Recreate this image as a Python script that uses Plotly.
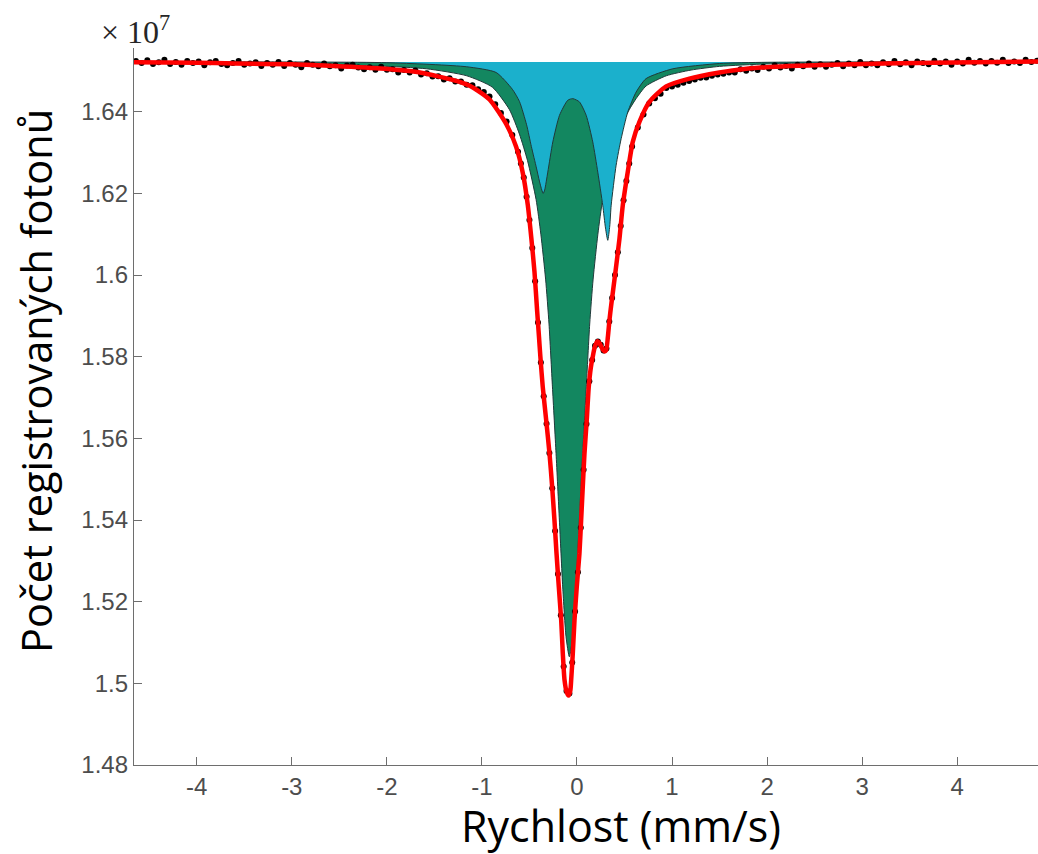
import plotly.graph_objects as go

# velocity channels (mm/s) and measured counts (x 10^7)
v_data = [-4.64, -4.58, -4.52, -4.46, -4.40, -4.34, -4.28, -4.22, -4.16, -4.10, -4.04, -3.98, -3.92, -3.86,
          -3.80, -3.74, -3.68, -3.62, -3.56, -3.50, -3.44, -3.38, -3.32, -3.26, -3.20, -3.14, -3.08, -3.02,
          -2.96, -2.90, -2.84, -2.78, -2.72, -2.66, -2.60, -2.54, -2.48, -2.42, -2.36, -2.30, -2.24, -2.18,
          -2.12, -2.06, -2.00, -1.94, -1.88, -1.82, -1.76, -1.70, -1.64, -1.58, -1.52, -1.46, -1.40, -1.34,
          -1.28, -1.22, -1.16, -1.10, -1.04, -0.98, -0.92, -0.86, -0.80, -0.74, -0.68, -0.62,
          -0.59, -0.56, -0.53, -0.50, -0.47, -0.44, -0.41, -0.38, -0.35, -0.32, -0.29, -0.26, -0.23, -0.20,
          -0.17, -0.14, -0.11, -0.08, -0.05, -0.02, 0.01, 0.04, 0.07, 0.10, 0.13, 0.16, 0.19, 0.22, 0.25,
          0.28, 0.31, 0.34, 0.37, 0.40, 0.43, 0.46, 0.49, 0.52, 0.55, 0.58,
          0.64, 0.70, 0.76, 0.82, 0.88, 0.94, 1.00, 1.06, 1.12, 1.18, 1.24, 1.30, 1.36, 1.42, 1.48, 1.54,
          1.60, 1.66, 1.72, 1.78, 1.84, 1.90, 1.96, 2.02, 2.08, 2.14, 2.20, 2.26, 2.32, 2.38, 2.44, 2.50,
          2.56, 2.62, 2.68, 2.74, 2.80, 2.86, 2.92, 2.98, 3.04, 3.10, 3.16, 3.22, 3.28, 3.34, 3.40, 3.46,
          3.52, 3.58, 3.64, 3.70, 3.76, 3.82, 3.88, 3.94, 4.00, 4.06, 4.12, 4.18, 4.24, 4.30, 4.36, 4.42,
          4.48, 4.54, 4.60, 4.66, 4.72, 4.78, 4.84]
counts = [1.6524, 1.6519, 1.6526, 1.6517, 1.6521, 1.6527, 1.6517, 1.6522, 1.6515, 1.6524, 1.6519, 1.6523,
          1.6514, 1.6521, 1.6524, 1.6517, 1.6514, 1.6519, 1.6524, 1.6515, 1.6518, 1.6521, 1.6512, 1.6519,
          1.6515, 1.6522, 1.6512, 1.6519, 1.6515, 1.6509, 1.6519, 1.6515, 1.6511, 1.6518, 1.6511, 1.6514,
          1.6506, 1.6513, 1.6515, 1.6508, 1.6504, 1.6509, 1.6503, 1.6510, 1.6503, 1.6504, 1.6496, 1.6502,
          1.6496, 1.6501, 1.6491, 1.6494, 1.6486, 1.6487, 1.6479, 1.6482, 1.6474, 1.6474, 1.6466, 1.6465,
          1.6455, 1.6448, 1.6437, 1.6418, 1.6397, 1.6376, 1.6343, 1.6302,
          1.6273, 1.6239, 1.6192, 1.6135, 1.6066, 1.5985, 1.5884, 1.5786, 1.5703, 1.5636, 1.5564, 1.5478,
          1.5373, 1.5268, 1.5167, 1.5041, 1.4981, 1.4975, 1.5051, 1.5176, 1.5272, 1.5381, 1.5523, 1.5635,
          1.5740, 1.5792, 1.5827, 1.5837, 1.5829, 1.5815, 1.5820, 1.5886, 1.5944, 1.6000, 1.6056, 1.6120,
          1.6183, 1.6230, 1.6273, 1.6315,
          1.6361, 1.6393, 1.6420, 1.6433, 1.6444, 1.6458, 1.6462, 1.6466, 1.6471, 1.6475, 1.6479, 1.6483,
          1.6484, 1.6488, 1.6491, 1.6493, 1.6496, 1.6496, 1.6504, 1.6500, 1.6506, 1.6502, 1.6510, 1.6506,
          1.6514, 1.6508, 1.6512, 1.6506, 1.6515, 1.6511, 1.6518, 1.6510, 1.6516, 1.6510, 1.6515, 1.6519,
          1.6511, 1.6518, 1.6514, 1.6522, 1.6514, 1.6518, 1.6514, 1.6521, 1.6516, 1.6524, 1.6516, 1.6521,
          1.6514, 1.6523, 1.6519, 1.6516, 1.6525, 1.6518, 1.6523, 1.6515, 1.6523, 1.6518, 1.6527, 1.6520,
          1.6524, 1.6518, 1.6524, 1.6520, 1.6527, 1.6519, 1.6523, 1.6519, 1.6527, 1.6522, 1.6525]

# total fit (red)
v_fit = [-4.66, -4.0, -3.6, -3.0, -2.55, -2.02, -1.68, -1.45, -1.25, -1.1, -0.92, -0.745, -0.64, -0.57,
         -0.517, -0.48, -0.447, -0.42, -0.40, -0.385, -0.36, -0.324, -0.289, -0.261, -0.237, -0.215,
         -0.191, -0.166, -0.149, -0.131, -0.11, -0.089, -0.07, -0.061, -0.044, -0.026, -0.002, 0.026,
         0.044, 0.061, 0.079, 0.103, 0.124, 0.145, 0.166, 0.19, 0.216, 0.24, 0.265, 0.29, 0.307, 0.325,
         0.342, 0.36, 0.405, 0.447, 0.482, 0.534, 0.587, 0.657, 0.762, 0.938, 1.183, 1.498, 1.635, 1.99,
         2.69, 3.74, 4.85]
fit = [1.6521, 1.6520, 1.6518, 1.6516, 1.6512, 1.6505, 1.6497, 1.6486, 1.6474, 1.6460, 1.6430, 1.6370,
       1.6314, 1.6250, 1.6171, 1.6090, 1.6008, 1.5915, 1.5850, 1.5800, 1.5726, 1.5645, 1.5563, 1.5481,
       1.5400, 1.5318, 1.5236, 1.5155, 1.5073, 1.5008, 1.4980, 1.4970, 1.4982, 1.5008, 1.5073, 1.5155,
       1.5237, 1.5318, 1.5400, 1.5481, 1.5563, 1.5645, 1.5726, 1.5772, 1.5800, 1.5826, 1.5838, 1.5832,
       1.5820, 1.5813, 1.5816, 1.5848, 1.5890, 1.5926, 1.6008, 1.6089, 1.6171, 1.6252, 1.6326, 1.6375,
       1.6424, 1.6462, 1.6481, 1.6496, 1.6501, 1.6509, 1.6515, 1.6520, 1.6523]

# singlet component (green)
v_singlet = [-4.66, -3.08, -2.08, -1.58, -1.16, -0.89, -0.71, -0.605, -0.52, -0.43, -0.38, -0.33, -0.294,
             -0.258, -0.22, -0.185, -0.15, -0.115, -0.08, -0.045, -0.01, 0.025, 0.06, 0.098, 0.134, 0.17,
             0.22, 0.27, 0.36, 0.445, 0.55, 0.622, 0.727, 0.94, 1.2, 1.5, 2.0, 3.0, 4.85]
singlet = [1.6522, 1.6517, 1.6512, 1.6505, 1.6488, 1.6460, 1.6405, 1.6345, 1.6280, 1.6185, 1.6100, 1.5990,
           1.5880, 1.5726, 1.5563, 1.5400, 1.5236, 1.5114, 1.5065, 1.5114, 1.5236, 1.5400, 1.5563, 1.5726,
           1.5880, 1.5990, 1.6100, 1.6185, 1.6285, 1.6355, 1.6405, 1.6432, 1.6463, 1.6488, 1.6502, 1.6511,
           1.6517, 1.6521, 1.6522]

# doublet component (blue)
v_doublet = [-4.66, -2.0, -1.16, -0.85, -0.68, -0.605, -0.53, -0.48, -0.426, -0.395, -0.37, -0.355, -0.34,
             -0.307, -0.254, -0.184, -0.097, -0.044, 0.026, 0.097, 0.166, 0.219, 0.271, 0.300, 0.324, 0.345,
             0.36, 0.412, 0.465, 0.534, 0.622, 0.727, 1.007, 1.498, 2.0, 4.85]
doublet = [1.6522, 1.6520, 1.6510, 1.6496, 1.6455, 1.6425, 1.6368, 1.6315, 1.6262, 1.6230, 1.6208, 1.6200,
           1.6208, 1.6252, 1.6326, 1.6391, 1.6428, 1.6432, 1.6424, 1.6391, 1.6326, 1.6252, 1.6171, 1.6115,
           1.6085, 1.6120, 1.6171, 1.6269, 1.6334, 1.6399, 1.6448, 1.6481, 1.6505, 1.6518, 1.6521, 1.6522]

x_ticks = [-4, -3, -2, -1, 0, 1, 2, 3, 4]
x_tick_text = ['-4', '-3', '-2', '-1', '0', '1', '2', '3', '4']
y_ticks = [1.48, 1.50, 1.52, 1.54, 1.56, 1.58, 1.60, 1.62, 1.64]
y_tick_text = ['1.48', '1.5', '1.52', '1.54', '1.56', '1.58', '1.6', '1.62', '1.64']

outline = '#1f3a3a'
axis_grey = '#6e6e6e'

fig = go.Figure()
fig.add_trace(go.Scatter(x=v_singlet, y=singlet, mode='lines', fill='toself', fillcolor='#138760',
                         line=dict(color=outline, width=1, shape='spline', smoothing=0.6)))
fig.add_trace(go.Scatter(x=v_doublet, y=doublet, mode='lines', fill='toself', fillcolor='#1bb0cc',
                         line=dict(color=outline, width=1, shape='spline', smoothing=0.6)))
fig.add_trace(go.Scatter(x=v_data, y=counts, mode='markers',
                         marker=dict(color='black', size=6)))
fig.add_trace(go.Scatter(x=v_fit, y=fit, mode='lines',
                         line=dict(color='#ff0000', width=4.5, shape='spline', smoothing=0.6)))

fig.update_layout(
    width=1038, height=854,
    margin=dict(l=134, r=0, t=48, b=89, autoexpand=False),
    paper_bgcolor='white', plot_bgcolor='white',
    showlegend=False,
    font=dict(family='Liberation Sans', color='#4d4d4d', size=24),
)
fig.update_xaxes(range=[-4.66, 4.85], tickvals=x_ticks, ticktext=x_tick_text,
                 showgrid=False, zeroline=False, showline=True, linecolor=axis_grey, linewidth=1.3,
                 ticks='inside', ticklen=8, tickcolor=axis_grey, ticklabelstandoff=0)
fig.update_yaxes(range=[1.48, 1.6556], tickvals=y_ticks, ticktext=y_tick_text,
                 showgrid=False, zeroline=False, showline=True, linecolor=axis_grey, linewidth=1.3,
                 ticks='inside', ticklen=8, tickcolor=axis_grey, ticklabelstandoff=0)

fig.add_annotation(text='× 10<sup>7</sup>', xref='paper', yref='paper', x=0.002, y=1.025,
                   xanchor='center', yanchor='middle', showarrow=False,
                   font=dict(family='Liberation Serif', size=32, color='#262626'))
fig.add_annotation(text='Rychlost (mm/s)', xref='paper', yref='paper', x=0.5387, y=-0.0850,
                   xanchor='center', yanchor='middle', showarrow=False,
                   font=dict(family='Open Sans', size=43, color='black'))
fig.add_annotation(text='Počet registrovaných fotonů', xref='paper', yref='paper', x=-0.1084, y=0.5356,
                   xanchor='center', yanchor='middle', textangle=-90, showarrow=False,
                   font=dict(family='Open Sans', size=41.5, color='black'))

# drop the default 8px page margin so the figure fills the window
fig.write_html("out.html", config={'displayModeBar': False},
               post_script="document.body.style.margin='0';")
